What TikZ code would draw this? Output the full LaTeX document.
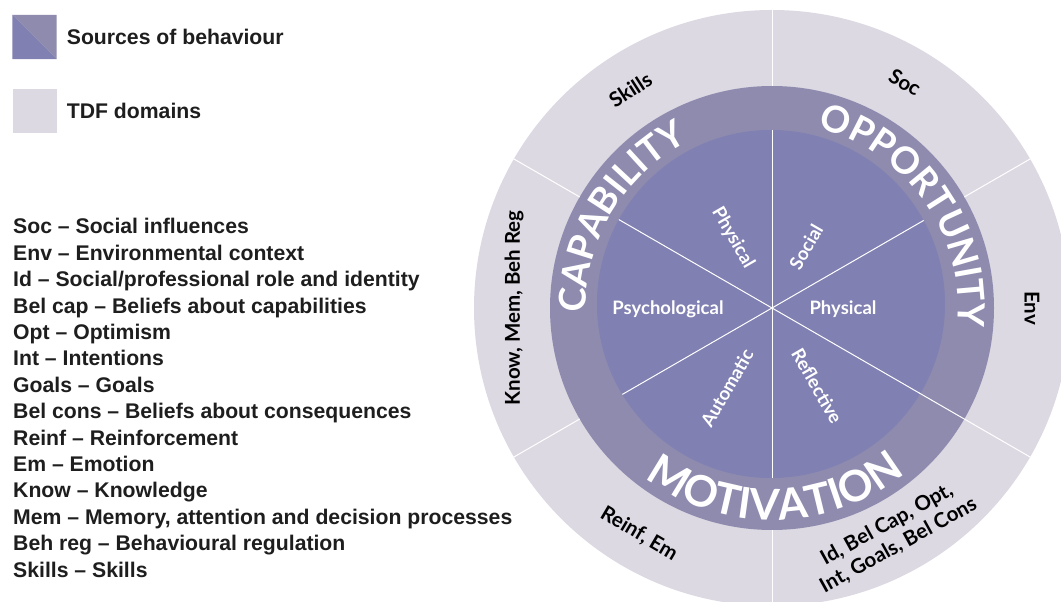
\documentclass[tikz,border=0pt]{standalone}
\usepackage{fontspec}
\setmainfont{Liberation Sans}
\newfontfamily\wheelfont{Lato}
\usetikzlibrary{positioning,decorations.text}
\definecolor{tdfgrey}{HTML}{DCD9E3}
\definecolor{comring}{HTML}{8E8BAF}
\definecolor{comcore}{HTML}{8080B2}
\definecolor{inkblack}{HTML}{1E1E1E}
\newcommand\comfont{\wheelfont\bfseries\fontsize{37}{37}\selectfont\color{white}}
\newcommand\motfont{\wheelfont\bfseries\fontsize{43}{43}\selectfont\color{white}}
\tikzset{
    legend-box/.style = {rectangle, minimum size=44pt, inner sep=0pt},
    legend-text/.style = {font=\bfseries\fontsize{21.2}{24}\selectfont, text=inkblack, inner sep=0pt},
    domain-item/.style = {font=\bfseries\fontsize{21.2}{24}\selectfont, text=inkblack, inner sep=0pt, anchor=base west},
    tdf-label/.style = {font=\wheelfont\bfseries\fontsize{20.5}{24}\selectfont, text=black, inner sep=0pt, align=center},
    source-label/.style = {font=\wheelfont\bfseries\fontsize{18.5}{22}\selectfont, text=white, inner sep=0pt},
    divider/.style = {draw=white, line width=1pt},
}

\begin{document}
\begin{tikzpicture}[x=1pt, y=1pt]
\clip (0,0) rectangle (1061,602);
\fill[white] (0,0) rectangle (1061,602);
\coordinate (C) at (772,294);
\coordinate (D) at (771,298);

% the wheel
\fill[tdfgrey] (C) circle[radius=298];
\fill[comring] (C) circle[radius=222];
\fill[comcore] (D) circle[radius=174];
\begin{scope}
    \clip (D) circle[radius=174];
    \foreach \a in {30,90,...,330}
        \draw[divider] (C) -- ([shift={(\a:200)}]C);
\end{scope}
\foreach \a in {30,90,...,330}
    \draw[divider] ([shift={(\a:222)}]C) -- ([shift={(\a:300)}]C);
\draw[divider] ([shift={(330:170)}]C) -- ([shift={(330:222)}]C);

% COM-B ring
\path[decorate, decoration={text along path, text align=center, text={|\comfont|CAPABILITY}}]
    ([shift={(219:186)}]C) arc[start angle=219, end angle=79, radius=186];
\path[decorate, decoration={text along path, text align=center, text={|\comfont|OPPORTUNITY}}]
    ([shift={(110:186)}]C) arc[start angle=110, end angle=-40, radius=186];
\path[decorate, decoration={text along path, text align=center, text={|\motfont|MOTIVATION}}]
    ([shift={(196:212)}]C) arc[start angle=196, end angle=346, radius=212];

% sources of behaviour
\node[source-label] (psy) at (668,293) {Psychological};
\node[source-label] (phyopp) at (843,293) {Physical};
\node[source-label, rotate=-60] (phycap) at (733,364) {Physical};
\node[source-label, rotate=60] (soc) at (806,355) {Social};
\node[source-label, rotate=60] (aut) at (727,214) {Automatic};
\node[source-label, rotate=-60] (ref) at (817,216) {Reflective};

% TDF domains
\node[tdf-label, rotate=33] (skills) at ([shift={(123:260)}]C) {Skills};
\node[tdf-label, rotate=-30.5] (socdom) at ([shift={(59.5:262)}]C) {Soc};
\node[tdf-label, rotate=-90] (env) at ([shift={(0:260)}]C) {Env};
\node[tdf-label, rotate=90] (know) at ([shift={(180:258)}]C) {Know, Mem, Beh Reg};
\node[tdf-label, rotate=-30.5] (reinf) at ([shift={(239.5:262)}]C) {Reinf, Em};
\node[tdf-label, rotate=29] (ident) at ([shift={(298:257)}]C) {Id, Bel Cap, Opt,\\Int, Goals, Bel Cons};

% legend
\node[legend-box] (srcbox) at (34.5,565) {};
\fill[comcore] (srcbox.north west) -- (srcbox.south east) -- (srcbox.south west) -- cycle;
\fill[comring] (srcbox.north west) -- (srcbox.north east) -- (srcbox.south east) -- cycle;
\node[legend-text, right=10pt of srcbox] (srctext) {Sources of behaviour};
\node[legend-box, fill=tdfgrey] (tdfbox) at (34.5,491) {};
\node[legend-text, right=10pt of tdfbox] (tdftext) {TDF domains};

\foreach \txt [count=\i from 0] in {{Soc -- Social influences},
    {Env -- Environmental context},
    {Id -- Social/professional role and identity},
    {Bel cap -- Beliefs about capabilities},
    {Opt -- Optimism},
    {Int -- Intentions},
    {Goals -- Goals},
    {Bel cons -- Beliefs about consequences},
    {Reinf -- Reinforcement},
    {Em -- Emotion},
    {Know -- Knowledge},
    {Mem -- Memory, attention and decision processes},
    {Beh reg -- Behavioural regulation},
    {Skills -- Skills}}
    \node[domain-item] (dom\i) at (13,368-26.4*\i) {\txt};
\end{tikzpicture}
\end{document}
